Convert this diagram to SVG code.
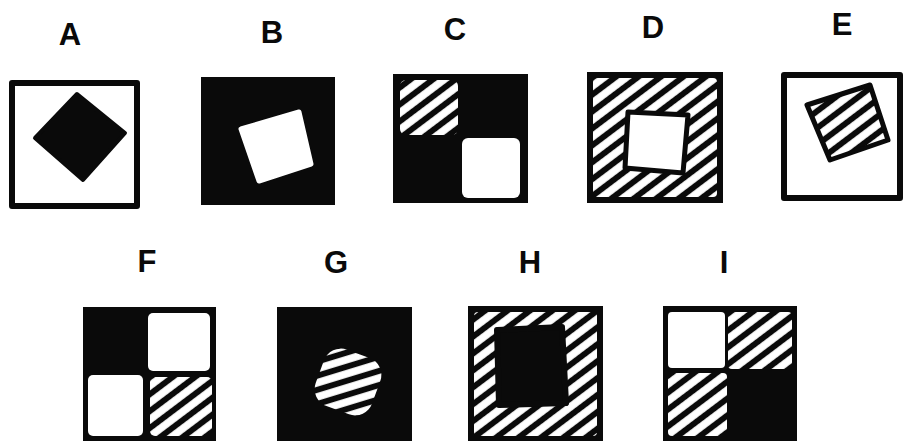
<svg xmlns="http://www.w3.org/2000/svg" width="906" height="441" viewBox="0 0 906 441">
  <defs>
    <pattern id="h" patternUnits="userSpaceOnUse" width="13.5" height="13.5" patternTransform="rotate(53)">
      <rect width="13.5" height="13.5" fill="#0a0a0a"/>
      <rect x="3" width="7.5" height="13.5" fill="#fff"/>
    </pattern>
    <style>
      .frame{fill:#fff;stroke:#0a0a0a;stroke-width:6;stroke-linejoin:round}
      .solid{fill:#0a0a0a}
      .white{fill:#fff}
      .hatch{fill:url(#h)}
      .lbl{font-family:"Liberation Sans",Arial,sans-serif;font-weight:bold;font-size:31px;text-anchor:middle;fill:#0a0a0a}
    </style>
  </defs>
  <rect width="906" height="441" fill="#fff"/>

  <g id="A">
    <text class="lbl" x="70" y="45">A</text>
    <rect class="frame" x="12" y="83" width="125" height="123"/>
    <polygon class="solid" points="77,94 125,133 83,180 35,138" stroke="#0a0a0a" stroke-width="4" stroke-linejoin="round"/>
  </g>

  <g id="B">
    <text class="lbl" x="272" y="43">B</text>
    <rect class="solid" x="201" y="77" width="134" height="128"/>
    <polygon class="white" points="241,129 299,112 311,164 259,181" stroke="#fff" stroke-width="5" stroke-linejoin="round"/>
  </g>

  <g id="C">
    <text class="lbl" x="455" y="40">C</text>
    <rect class="solid" x="393" y="74" width="135" height="129"/>
    <rect class="hatch" x="400" y="80" width="58" height="55" rx="6"/>
    <rect class="white" x="462" y="138" width="58" height="60" rx="6"/>
  </g>

  <g id="D">
    <text class="lbl" x="653" y="38">D</text>
    <rect class="solid" x="587" y="72" width="136" height="131"/>
    <rect class="hatch" x="593" y="78" width="124" height="119" rx="4"/>
    <polygon class="white" points="628,112 688,115 683,173 625,168" stroke="#0a0a0a" stroke-width="5" stroke-linejoin="round"/>
  </g>

  <g id="E">
    <text class="lbl" x="842" y="35">E</text>
    <rect class="frame" x="784" y="75" width="116" height="123"/>
    <polygon class="hatch" points="807,105 870,85 888,140 830,160" stroke="#0a0a0a" stroke-width="5" stroke-linejoin="round"/>
  </g>

  <g id="F">
    <text class="lbl" x="147" y="272">F</text>
    <rect class="solid" x="83" y="307" width="133" height="134"/>
    <rect class="white" x="148" y="313" width="62" height="58" rx="5"/>
    <rect class="white" x="88" y="375" width="55" height="61" rx="5"/>
    <rect class="hatch" x="150" y="377" width="62" height="59" rx="5"/>
  </g>

  <g id="G">
    <text class="lbl" x="336" y="273">G</text>
    <rect class="solid" x="277" y="307" width="135" height="134"/>
    <rect class="hatch" x="318" y="352" width="60" height="60" rx="18" transform="rotate(20 348 382)"/>
  </g>

  <g id="H">
    <text class="lbl" x="530" y="273">H</text>
    <rect class="solid" x="468" y="306" width="135" height="135"/>
    <rect class="hatch" x="474" y="312" width="123" height="124" rx="4"/>
    <polygon class="solid" points="497,330 562,327 566,403 499,405" stroke="#0a0a0a" stroke-width="6" stroke-linejoin="round"/>
  </g>

  <g id="I">
    <text class="lbl" x="724" y="273">I</text>
    <rect class="solid" x="663" y="306" width="134" height="135"/>
    <rect class="white" x="668" y="312" width="57" height="56" rx="4"/>
    <rect class="hatch" x="728" y="312" width="64" height="57" rx="4"/>
    <rect class="hatch" x="668" y="373" width="59" height="63" rx="4"/>
  </g>
</svg>
